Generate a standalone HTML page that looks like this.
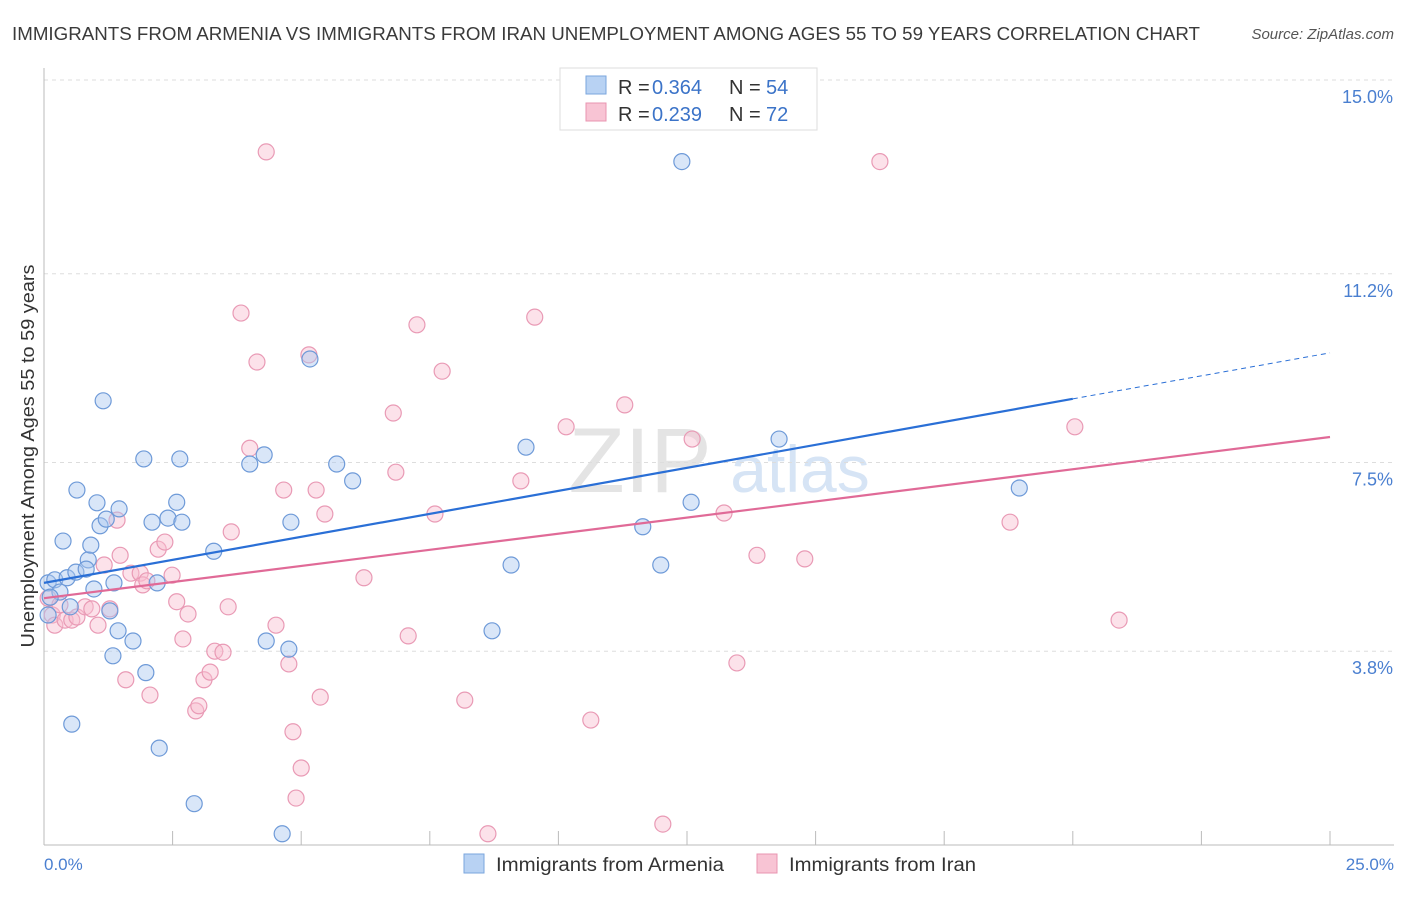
<!DOCTYPE html>
<html><head><meta charset="utf-8"><style>
body{margin:0;background:#fff;font-family:"Liberation Sans",sans-serif;}
svg text{font-family:"Liberation Sans",sans-serif;}
</style></head><body>
<svg width="1406" height="892">
<text x="12" y="40" font-size="18" fill="#3a3a3a" textLength="1188" lengthAdjust="spacingAndGlyphs">IMMIGRANTS FROM ARMENIA VS IMMIGRANTS FROM IRAN UNEMPLOYMENT AMONG AGES 55 TO 59 YEARS CORRELATION CHART</text>
<text x="1394" y="39" font-size="15" fill="#555" font-style="italic" text-anchor="end">Source: ZipAtlas.com</text>
<text x="640" y="492" font-size="92" fill="#e4e4e4" text-anchor="middle" font-family="Liberation Serif">ZIP</text>
<text x="800" y="492" font-size="66" fill="#d6e4f5" text-anchor="middle">atlas</text>
<g id="grid"></g>
<line x1="44" y1="68" x2="44" y2="845" stroke="#bbb"/>
<line x1="44" y1="845" x2="1394" y2="845" stroke="#bbb"/>
<text x="34" y="456" font-size="18" fill="#333" text-anchor="middle" textLength="383" lengthAdjust="spacingAndGlyphs" transform="rotate(-90 34 456)">Unemployment Among Ages 55 to 59 years</text>
<text x="44" y="870" font-size="17" fill="#4a7fd0">0.0%</text>
<text x="1394" y="870" font-size="17" fill="#4a7fd0" text-anchor="end">25.0%</text>
<g id="pts"></g>
<g id="lines"></g>
<g>
<rect x="560" y="68" width="257" height="62" fill="#fff" stroke="#ddd"/>
<rect x="586" y="76" width="20" height="18" fill="#b8d2f3" stroke="#7aa6de"/>
<rect x="586" y="103" width="20" height="18" fill="#f8c4d4" stroke="#e994b0"/>
<g font-size="20" fill="#333">
<text x="618" y="94">R =</text><text x="652" y="94" fill="#3b73c8">0.364</text><text x="729" y="94">N =</text><text x="766" y="94" fill="#3b73c8">54</text></g>
<g font-size="20" fill="#333">
<text x="618" y="121">R =</text><text x="652" y="121" fill="#3b73c8">0.239</text><text x="729" y="121">N =</text><text x="766" y="121" fill="#3b73c8">72</text></g>
</g>
<rect x="464" y="854" width="20" height="19" fill="#b8d2f3" stroke="#7aa6de"/>
<text x="496" y="871" font-size="19" fill="#333" textLength="228" lengthAdjust="spacingAndGlyphs">Immigrants from Armenia</text>
<rect x="757" y="854" width="20" height="19" fill="#f8c4d4" stroke="#e994b0"/>
<text x="789" y="871" font-size="19" fill="#333" textLength="187" lengthAdjust="spacingAndGlyphs">Immigrants from Iran</text>
</svg>
<script>
const yTicks=[15.0,11.2,7.5,3.8];
const yTickLabels=["15.0%","11.2%","7.5%","3.8%"];
const xTickValues=[0,2.5,5,7.5,10,12.5,15,17.5,20,22.5,25];
const armeniaX=[0.08,0.21,0.31,0.12,0.08,0.45,0.37,0.51,0.64,0.62,0.86,0.82,0.91,1.03,1.09,1.15,1.21,1.28,1.36,1.46,1.44,1.73,1.34,1.94,2.1,1.98,2.2,2.41,2.58,2.64,2.68,0.54,2.24,2.92,3.3,4.0,4.28,4.32,4.63,4.76,4.8,5.17,5.69,6.0,8.71,9.08,9.37,11.64,11.99,12.58,12.4,14.29,18.96,0.97];
const armeniaY=[5.14,5.2,4.96,4.86,4.51,5.24,5.96,4.67,6.96,5.35,5.59,5.41,5.88,6.71,6.26,8.71,6.39,4.59,5.14,6.59,4.2,4.0,3.71,7.57,6.33,3.38,5.14,6.41,6.72,7.57,6.33,2.37,1.9,0.81,5.76,7.47,7.65,4.0,0.22,3.84,6.33,9.53,7.47,7.14,4.2,5.49,7.8,6.24,5.49,6.72,13.4,7.96,7.0,5.02];
const iranX=[0.08,0.16,0.21,0.31,0.41,0.54,0.64,0.8,0.93,1.05,1.17,1.28,1.42,1.48,1.59,1.69,1.87,1.92,2.0,2.06,2.22,2.35,2.49,2.58,2.7,2.8,2.95,3.01,3.11,3.23,3.32,3.48,3.58,3.64,3.83,4.0,4.14,4.32,4.51,4.66,4.76,4.84,5.0,4.9,5.29,5.37,5.46,5.15,6.22,6.79,6.84,7.08,7.25,7.6,7.74,8.18,8.63,9.27,9.54,10.15,10.63,11.29,12.03,12.6,13.22,13.47,13.86,14.79,16.25,18.78,20.04,20.9];
const iranY=[4.84,4.51,4.31,4.71,4.41,4.41,4.47,4.67,4.63,4.31,5.49,4.63,6.37,5.68,3.24,5.33,5.33,5.1,5.18,2.94,5.8,5.94,5.29,4.77,4.04,4.53,2.63,2.73,3.24,3.39,3.8,3.78,4.67,6.14,10.43,7.78,9.47,13.59,4.31,6.96,3.55,2.22,1.51,0.92,6.96,2.9,6.49,9.61,5.24,8.47,7.31,4.1,10.2,6.49,9.29,2.84,0.22,7.14,10.35,8.2,2.45,8.63,0.41,7.96,6.51,3.57,5.68,5.61,13.4,6.33,8.2,4.41];
const armeniaTrend=[5.14,9.65];
const iranTrend=[4.84,8.0];
const NS="http://www.w3.org/2000/svg";
const xs=v=>44+v/25*1286;
const ys=v=>80+(15-v)*51;
const grid=document.getElementById('grid');
yTicks.forEach((t,i)=>{
 const l=document.createElementNS(NS,'line');
 l.setAttribute('x1',44);l.setAttribute('x2',1394);l.setAttribute('y1',ys(t));l.setAttribute('y2',ys(t));
 l.setAttribute('stroke','#ddd');l.setAttribute('stroke-dasharray','4,4');
 
 
 grid.appendChild(l);
 const tx=document.createElementNS(NS,'text');
 tx.setAttribute('x',1393);tx.setAttribute('y',ys(t)+23);tx.setAttribute('text-anchor','end');
 tx.setAttribute('font-size','18');tx.setAttribute('fill','#4a7fd0');tx.textContent=yTickLabels[i];
 
 
 grid.appendChild(tx);
});
xTickValues.forEach(v=>{
 const l=document.createElementNS(NS,'line');
 l.setAttribute('x1',xs(v));l.setAttribute('x2',xs(v));l.setAttribute('y1',831);l.setAttribute('y2',845);
 l.setAttribute('stroke','#bbb');
 
 
 grid.appendChild(l);
});
const pts=document.getElementById('pts');
function dots(X,Y,fill,stroke,name){
 X.forEach((x,i)=>{
  const c=document.createElementNS(NS,'circle');
  c.setAttribute('cx',xs(x));c.setAttribute('cy',ys(Y[i]));c.setAttribute('r',8);
  c.setAttribute('fill',fill);c.setAttribute('stroke',stroke);c.setAttribute('stroke-width','1.2');
  
  
  pts.appendChild(c);
 });
}
dots(iranX,iranY,'rgba(248,190,208,0.45)','#e99ab5','iran-point');
dots(armeniaX,armeniaY,'rgba(170,200,240,0.45)','#6e9ad8','armenia-point');
const lines=document.getElementById('lines');
function seg(x1,v1,x2,v2,col,dash,name){
 const l=document.createElementNS(NS,'line');
 l.setAttribute('x1',xs(x1));l.setAttribute('y1',ys(v1));l.setAttribute('x2',xs(x2));l.setAttribute('y2',ys(v2));
 l.setAttribute('stroke',col);l.setAttribute('stroke-width',dash?1:2.2);
 if(dash)l.setAttribute('stroke-dasharray','5,4');
 
 
 lines.appendChild(l);
}
const bAt=x=>armeniaTrend[0]+(armeniaTrend[1]-armeniaTrend[0])*x/25;
seg(0,armeniaTrend[0],20,bAt(20),'#2a6fd6',false,'armenia-trend-line');
seg(20,bAt(20),25,armeniaTrend[1],'#2a6fd6',true,'armenia-trend-extension');
seg(0,iranTrend[0],25,iranTrend[1],'#e06a97',false,'iran-trend-line');
</script>
</body></html>
